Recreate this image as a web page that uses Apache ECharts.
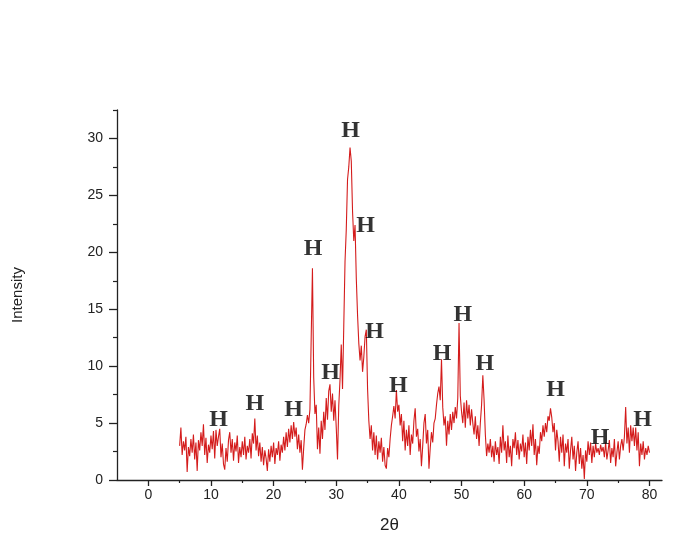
<!DOCTYPE html>
<html>
<head>
<meta charset="utf-8">
<script src="https://cdn.jsdelivr.net/npm/echarts@6/dist/echarts.min.js"></script>
<style>
  html, body { margin: 0; padding: 0; background: #ffffff; }
  #chart { width: 676px; height: 539px; }
</style>
</head>
<body>
<div id="chart"></div>
<script>
// XRD scan: 2θ from 5° to 80° in 0.2° steps
const angleStart = 5.0;
const angleStep = 0.2;

// Intensity readings, one row per 5° of 2θ
const intensity = [
  3.0,4.6,2.2,3.4,2.6,3.8,0.7,2.9,2.1,3.6,2.4,4.0,1.8,3.3,0.8,3.5,2.6,4.2,3.0,4.9,2.2,3.7,1.5,3.1,2.4,
  3.9,2.7,4.3,1.9,4.4,3.0,3.8,4.5,2.0,3.2,1.4,0.9,2.8,1.6,3.5,4.2,2.4,3.6,1.7,3.3,2.5,3.9,1.5,2.9,2.0,
  3.4,2.2,3.8,1.8,3.0,2.4,3.6,1.9,4.1,3.2,5.4,2.6,3.9,2.1,3.3,1.6,2.9,1.3,2.6,1.9,0.8,2.7,1.6,3.0,2.0,
  3.3,1.4,2.8,2.2,3.4,1.7,3.1,2.4,3.8,2.6,4.2,2.9,4.5,3.3,4.8,3.6,5.1,3.8,4.6,2.7,4.0,2.4,3.5,0.9,2.8,
  4.4,4.9,5.7,5.0,6.2,12.5,18.6,9.0,5.8,6.6,2.7,4.6,2.3,5.2,3.6,6.0,4.4,7.2,5.3,7.8,8.4,6.0,7.6,5.2,7.0,
  4.6,1.8,6.5,8.8,11.9,8.0,13.5,19.2,22.0,26.4,27.5,29.2,28.0,23.6,21.0,22.4,17.7,14.5,12.0,10.5,11.8,9.5,10.8,12.6,13.2,
  8.0,5.2,3.6,4.8,2.6,4.2,2.2,3.9,1.8,3.4,2.4,3.7,1.6,2.9,1.3,1.0,2.8,2.0,3.6,4.8,5.6,6.5,5.4,7.9,6.0,
  6.6,4.8,5.8,3.4,5.2,2.6,4.4,3.0,4.8,2.2,4.0,3.2,5.2,6.3,3.8,4.5,2.5,3.6,1.2,3.0,5.0,5.8,3.2,4.4,1.0,
  2.8,4.2,3.3,5.0,5.4,6.6,7.6,8.2,7.0,10.6,6.4,4.8,5.6,3.0,5.2,4.0,5.8,4.4,6.0,5.0,6.4,5.4,7.2,13.8,7.4,
  6.0,5.0,6.8,4.6,7.0,5.4,6.6,4.8,6.2,5.0,4.0,5.6,3.6,4.8,3.0,5.0,6.6,9.2,7.0,4.0,2.1,3.2,2.4,3.6,2.0,
  3.0,1.6,3.4,2.2,2.9,1.4,3.8,2.4,4.8,2.6,3.4,1.5,3.9,2.0,3.0,1.2,3.6,2.8,4.2,2.2,3.5,1.8,3.2,2.5,4.0,
  2.0,3.3,1.4,3.8,2.6,4.4,3.0,4.9,2.2,3.6,1.3,3.0,2.3,4.2,3.4,4.8,3.8,5.0,4.2,5.6,5.2,6.3,5.5,4.2,5.0,
  2.6,4.4,3.4,1.6,3.8,2.4,4.0,1.2,3.2,2.4,3.6,1.0,2.6,3.8,1.8,3.0,0.8,2.4,3.4,1.4,2.8,1.0,2.2,0.1,2.6,
  1.6,3.4,2.2,3.3,1.5,3.0,2.0,3.2,2.4,2.8,2.2,3.1,2.5,2.9,2.0,3.3,1.8,2.6,3.5,1.5,2.8,2.0,3.6,1.2,2.4,
  3.4,1.8,3.0,3.6,2.6,3.8,6.4,3.2,4.6,2.4,4.8,3.4,4.6,3.0,4.6,2.6,4.2,1.2,3.2,2.2,3.4,1.8,2.8,2.2,3.0,
  2.4
];

// Reflection markers "H": [2θ, intensity] of each letter's centre
const peakMarkers = [
  [11.2, 5.3], [17.0, 6.7], [23.2, 6.2], [26.3, 20.3], [29.1, 9.4],
  [32.3, 30.7], [34.7, 22.3], [36.1, 13.0], [39.9, 8.3], [46.9, 11.1],
  [50.2, 14.5], [53.7, 10.2], [65.0, 7.9], [72.1, 3.7], [78.9, 5.3]
];
const peakText = 'H';

// Axis ticks
const xMajorTicks = [0, 10, 20, 30, 40, 50, 60, 70, 80];
const xMinorTicks = [5, 15, 25, 35, 45, 55, 65, 75];
const yMajorTicks = [0, 5, 10, 15, 20, 25, 30];
const yMinorTicks = [2.5, 7.5, 12.5, 17.5, 22.5, 27.5, 32.5];

const xRange = [-5, 82];
const yRange = [0, 32.5];

const pattern = intensity.map((v, i) => [+(angleStart + i * angleStep).toFixed(2), v]);

const axisColor = '#222222';
const sans = '"Liberation Sans", Arial, sans-serif';

const chart = echarts.init(document.getElementById('chart'), null, { renderer: 'canvas' });

chart.setOption({
  backgroundColor: '#ffffff',
  animation: false,
  grid: { left: 117, right: 14, top: 110, bottom: 55, containLabel: false },
  xAxis: [
    {
      type: 'value', min: xRange[0], max: xRange[1], position: 'bottom',
      name: '2θ', nameLocation: 'middle', nameGap: 37,
      nameTextStyle: { fontFamily: sans, fontSize: 17, color: axisColor },
      axisLine: { show: true, onZero: false, lineStyle: { color: axisColor, width: 1.3 } },
      axisTick: { show: true, inside: false, length: 6, customValues: xMajorTicks, lineStyle: { color: axisColor, width: 1.3 } },
      axisLabel: { show: true, margin: 8, customValues: xMajorTicks, fontFamily: sans, fontSize: 14, color: axisColor },
      splitLine: { show: false }
    },
    {
      type: 'value', min: xRange[0], max: xRange[1], position: 'bottom',
      axisLine: { show: false, onZero: false },
      axisTick: { show: true, inside: false, length: 3, customValues: xMinorTicks, lineStyle: { color: axisColor, width: 1.2 } },
      axisLabel: { show: false },
      splitLine: { show: false }
    }
  ],
  yAxis: [
    {
      type: 'value', min: yRange[0], max: yRange[1], position: 'left',
      name: 'Intensity', nameLocation: 'middle', nameGap: 92,
      nameTextStyle: { fontFamily: sans, fontSize: 15, color: axisColor },
      axisLine: { show: true, onZero: false, lineStyle: { color: axisColor, width: 1.3 } },
      axisTick: { show: true, inside: false, length: 8, customValues: yMajorTicks, lineStyle: { color: axisColor, width: 1.3 } },
      axisLabel: { show: true, margin: 14, customValues: yMajorTicks, fontFamily: sans, fontSize: 14, color: axisColor },
      splitLine: { show: false }
    },
    {
      type: 'value', min: yRange[0], max: yRange[1], position: 'left',
      axisLine: { show: false, onZero: false },
      axisTick: { show: true, inside: false, length: 4, customValues: yMinorTicks, lineStyle: { color: axisColor, width: 1.2 } },
      axisLabel: { show: false },
      splitLine: { show: false }
    }
  ],
  series: [
    {
      type: 'line',
      xAxisIndex: 0, yAxisIndex: 0,
      data: pattern,
      showSymbol: false,
      symbol: 'none',
      sampling: null,
      silent: true,
      lineStyle: { color: '#d41c1c', width: 1.1 },
      z: 2
    },
    {
      type: 'scatter',
      xAxisIndex: 0, yAxisIndex: 0,
      data: peakMarkers,
      symbolSize: 1,
      itemStyle: { color: 'rgba(0,0,0,0)' },
      silent: true,
      label: {
        show: true,
        position: 'inside',
        formatter: () => peakText,
        fontFamily: '"Liberation Serif", "Times New Roman", serif',
        fontWeight: 'bold',
        fontSize: 24,
        color: '#000000'
      },
      z: 3
    }
  ]
});
</script>
</body>
</html>
